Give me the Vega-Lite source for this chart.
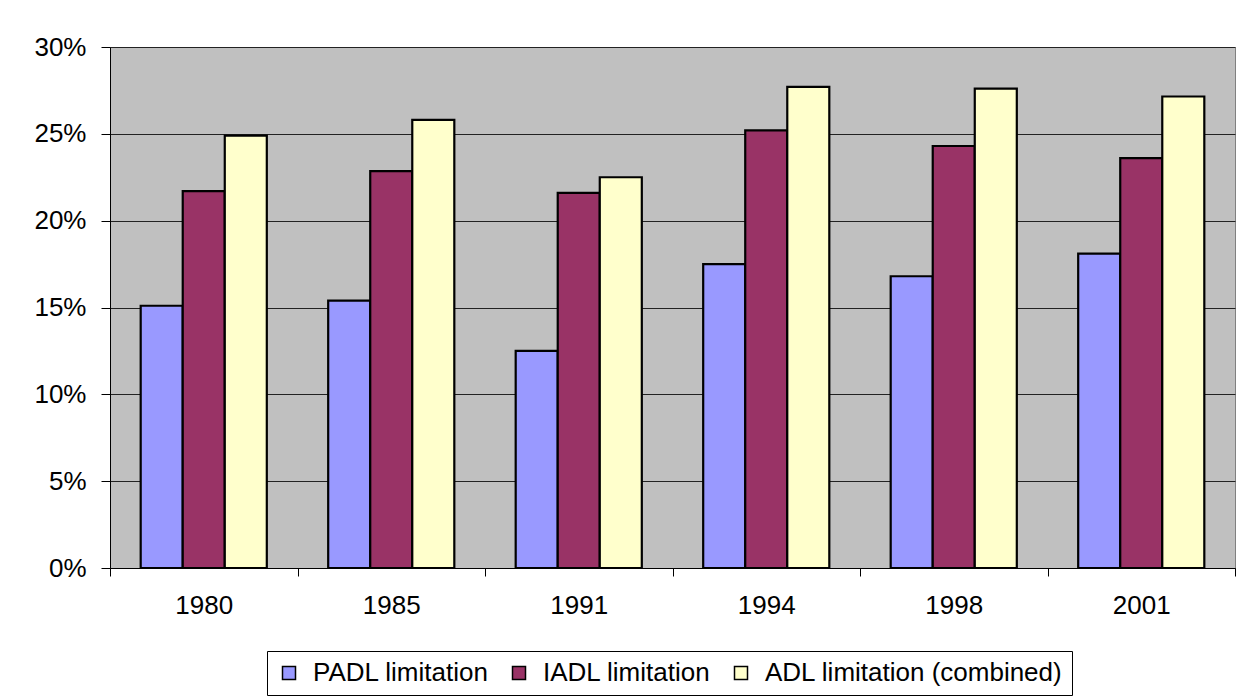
{
  "$schema": "https://vega.github.io/schema/vega-lite/v6.json",
  "width": 1125,
  "height": 521,
  "autosize": {"type": "none"},
  "padding": {"left": 110, "top": 47, "right": 22, "bottom": 131},
  "background": "white",
  "data": {
    "values": [
      {"year": "1980", "series": "PADL limitation", "value": 0.151},
      {"year": "1980", "series": "IADL limitation", "value": 0.217},
      {"year": "1980", "series": "ADL limitation (combined)", "value": 0.249},
      {"year": "1985", "series": "PADL limitation", "value": 0.154},
      {"year": "1985", "series": "IADL limitation", "value": 0.2285},
      {"year": "1985", "series": "ADL limitation (combined)", "value": 0.258},
      {"year": "1991", "series": "PADL limitation", "value": 0.125},
      {"year": "1991", "series": "IADL limitation", "value": 0.216},
      {"year": "1991", "series": "ADL limitation (combined)", "value": 0.225},
      {"year": "1994", "series": "PADL limitation", "value": 0.175},
      {"year": "1994", "series": "IADL limitation", "value": 0.252},
      {"year": "1994", "series": "ADL limitation (combined)", "value": 0.277},
      {"year": "1998", "series": "PADL limitation", "value": 0.168},
      {"year": "1998", "series": "IADL limitation", "value": 0.243},
      {"year": "1998", "series": "ADL limitation (combined)", "value": 0.276},
      {"year": "2001", "series": "PADL limitation", "value": 0.181},
      {"year": "2001", "series": "IADL limitation", "value": 0.236},
      {"year": "2001", "series": "ADL limitation (combined)", "value": 0.2715}
    ]
  },
  "mark": {"type": "bar", "stroke": "black", "strokeWidth": 2.2},
  "encoding": {
    "x": {
      "field": "year",
      "type": "nominal",
      "sort": null,
      "scale": {"paddingInner": 0, "paddingOuter": 0},
      "axis": {
        "title": null,
        "labelAngle": 0,
        "tickBand": "extent",
        "tickSize": 8,
        "labelPadding": 16,
        "labelFontSize": 26,
        "labelColor": "black",
        "domainColor": "black",
        "tickColor": "black",
        "grid": false
      }
    },
    "xOffset": {
      "field": "series",
      "type": "nominal",
      "sort": ["PADL limitation", "IADL limitation", "ADL limitation (combined)"],
      "scale": {"paddingInner": 0, "paddingOuter": 0.73}
    },
    "y": {
      "field": "value",
      "type": "quantitative",
      "scale": {"domain": [0, 0.3], "nice": false, "zero": true},
      "axis": {
        "title": null,
        "format": ".0%",
        "values": [0, 0.05, 0.1, 0.15, 0.2, 0.25, 0.3],
        "tickSize": 9,
        "labelPadding": 15,
        "labelFontSize": 26,
        "labelColor": "black",
        "domainColor": "black",
        "tickColor": "black",
        "grid": true,
        "gridColor": "#222222",
        "gridWidth": 1
      }
    },
    "color": {
      "field": "series",
      "type": "nominal",
      "sort": ["PADL limitation", "IADL limitation", "ADL limitation (combined)"],
      "scale": {
        "domain": ["PADL limitation", "IADL limitation", "ADL limitation (combined)"],
        "range": ["#9999FF", "#993366", "#FFFFCC"]
      },
      "legend": {
        "title": null,
        "orient": "none",
        "legendX": 157,
        "legendY": 604,
        "direction": "horizontal",
        "symbolType": "square",
        "symbolSize": 169,
        "symbolStrokeColor": "black",
        "symbolStrokeWidth": 1.5,
        "symbolOpacity": 1,
        "labelFontSize": 26,
        "labelColor": "black",
        "labelLimit": 500,
        "labelOffset": 11,
        "columnPadding": 17,
        "padding": 9,
        "strokeColor": "black",
        "fillColor": "white"
      }
    }
  },
  "config": {
    "font": "Liberation Sans",
    "view": {"fill": "#C0C0C0", "stroke": "#808080", "strokeWidth": 1}
  }
}
